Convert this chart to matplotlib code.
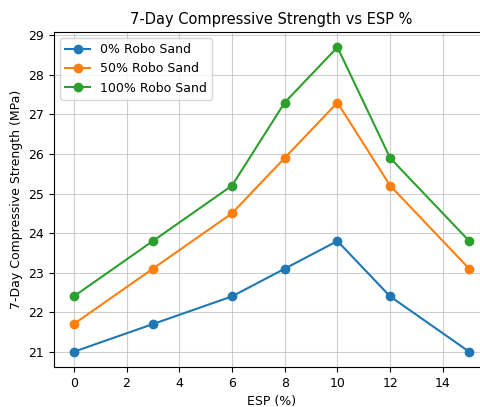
import matplotlib
matplotlib.use('Agg')
import matplotlib.pyplot as plt

esp = [0, 3, 6, 8, 10, 12, 15]
sand_0 = [21.0, 21.7, 22.4, 23.1, 23.8, 22.4, 21.0]
sand_50 = [21.7, 23.1, 24.5, 25.9, 27.3, 25.2, 23.1]
sand_100 = [22.4, 23.8, 25.2, 27.3, 28.7, 25.9, 23.8]

fig = plt.figure(figsize=(4.8, 4.07), dpi=100)
ax = fig.add_axes([54 / 480, 40 / 407, 435 / 480, 335 / 407])

ax.plot(esp, sand_0, marker='o', label='0% Robo Sand')
ax.plot(esp, sand_50, marker='o', label='50% Robo Sand')
ax.plot(esp, sand_100, marker='o', label='100% Robo Sand')

ax.set_title('7-Day Compressive Strength vs ESP %', fontsize=10.5)
ax.set_xlabel('ESP (%)', fontsize=9)
ax.set_ylabel('7-Day Compressive Strength (MPa)', fontsize=9)
ax.tick_params(labelsize=9)
ax.grid(True, alpha=0.6)
ax.legend(fontsize=9, loc='upper left')

fig.savefig('out.png', dpi=100)
